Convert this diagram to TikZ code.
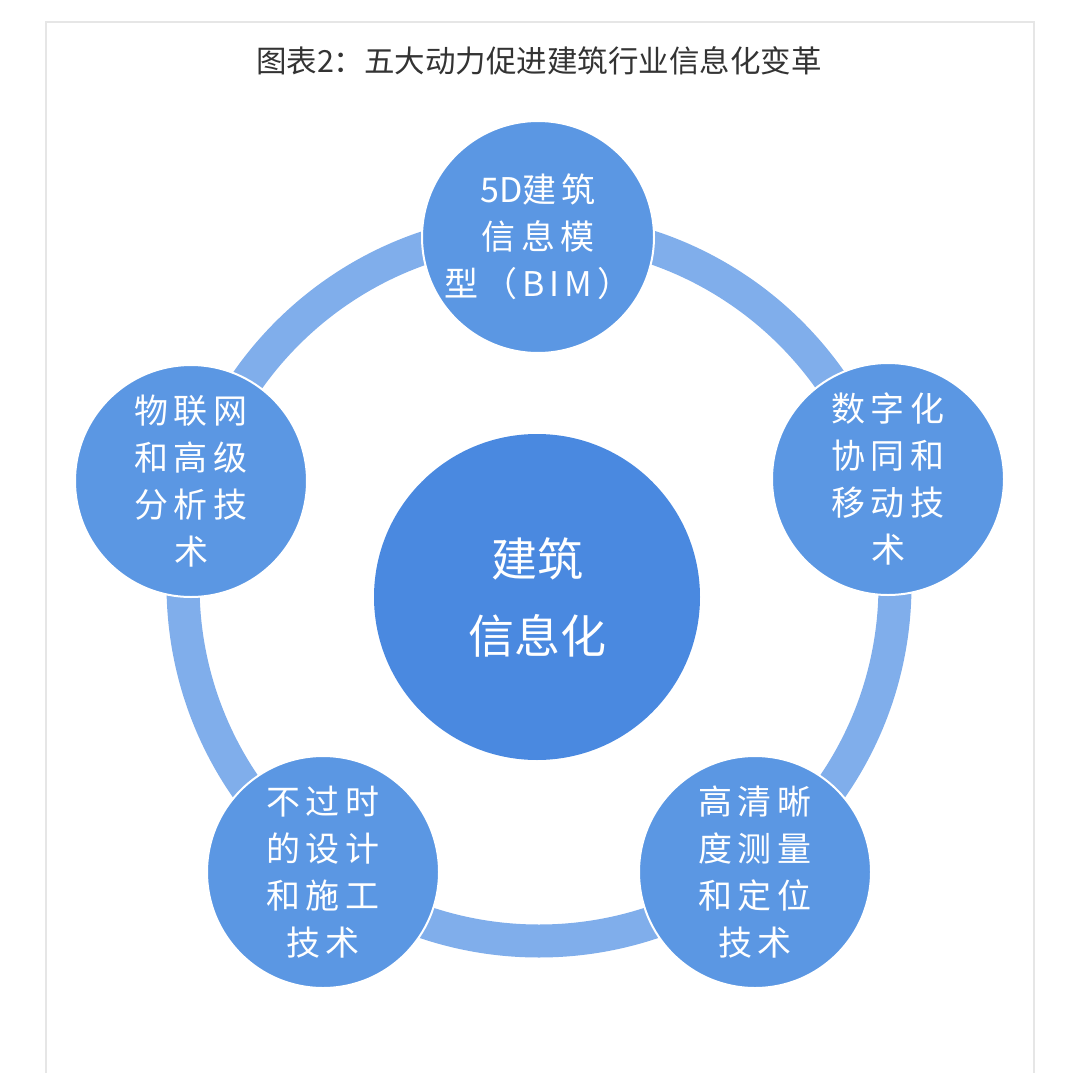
\documentclass[tikz,border=0pt]{standalone}
\usepackage{fontspec}
\setmainfont{Noto Sans CJK SC}
\usepackage{xcolor}
\usepackage{tikz}
\definecolor{ringblue}{HTML}{80AEEB}
\definecolor{ballblue}{HTML}{5B97E3}
\definecolor{hubblue}{HTML}{4A89E0}
\definecolor{framegray}{HTML}{E6E6E6}
\definecolor{titlegray}{HTML}{333333}

\begin{document}
\begin{tikzpicture}[x=1pt, y=-1pt,
  ball/.style={circle, fill=ballblue, draw=white, line width=2pt, minimum size=232pt, inner sep=0pt, align=center, text=white, font=\fontsize{34}{47}\selectfont\addfontfeature{LetterSpace=15}},
  hub/.style={circle, fill=hubblue, minimum size=326pt, inner sep=0pt, align=center, text=white, font=\fontsize{46}{77}\selectfont}]
  \useasboundingbox (0,0) rectangle (1080,1073);
  \draw[framegray, line width=1.5pt] (46,1073) -- (46,22) -- (1034,22) -- (1034,1073);
  \node[font=\fontsize{30.5}{30}\selectfont, text=titlegray] (title) at (539,61) {图表2：五大动力促进建筑行业信息化变革};
  \coordinate (ringc) at (539,585);
  \draw[ringblue, line width=33pt] (ringc) circle[radius=356];
  \node[ball] (bim) at (538,237) {{\addfontfeature{LetterSpace=0}5D}建筑\\信息模\\型（BIM）};
  \node[ball] (mobile) at (888,479) {数字化\\协同和\\移动技\\术};
  \node[ball] (survey) at (755,872) {高清晰\\度测量\\和定位\\技术};
  \node[ball] (design) at (323,872) {不过时\\的设计\\和施工\\技术};
  \node[ball] (iot) at (191,481) {物联网\\和高级\\分析技\\术};
  \node[hub] (hub) at (537,597) {建筑\\信息化};
\end{tikzpicture}
\end{document}
